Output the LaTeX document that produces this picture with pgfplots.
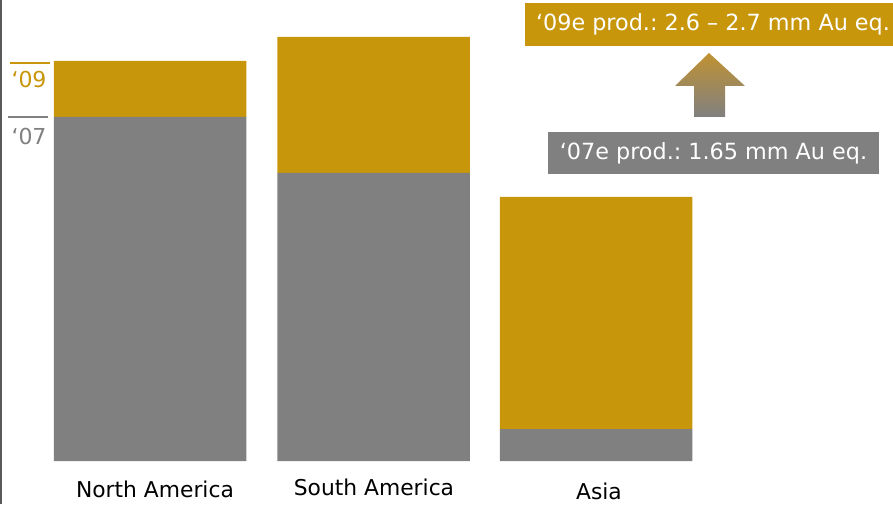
\documentclass[border=0pt]{standalone}
\usepackage{pgfplots}
\pgfplotsset{compat=1.18}
\usepackage{fontspec}
\setmainfont{DejaVu Sans}
\frenchspacing
\definecolor{gold}{RGB}{200,150,10}
\definecolor{mgray}{RGB}{128,128,128}
\definecolor{axgray}{RGB}{90,90,90}
\begin{document}
\begin{tikzpicture}
\begin{axis}[
  width=893pt, height=504pt, scale only axis,
  xmin=0, xmax=893, ymin=-43, ymax=461,
  axis line style={draw=none},
  xtick=\empty, ytick=\empty,
  ybar stacked, bar width=192.5,
  clip=false,
]
\addplot[fill=mgray, draw=none] coordinates {(150,344) (373.5,288) (596,32)};
\addplot[fill=gold, draw=none] coordinates {(150,56) (373.5,136) (596,232)};

% left axis line
\draw[axgray, line width=1.6pt] (axis cs:0.8,-43) -- (axis cs:0.8,461);
% left markers
\draw[gold, line width=2pt] (axis cs:10,398) -- (axis cs:50,398);
\node[gold, font=\fontsize{22}{22}\selectfont, anchor=center] at (axis cs:29,382) {‘09};
\draw[mgray, line width=2pt] (axis cs:8,344) -- (axis cs:48,344);
\node[mgray, font=\fontsize{22}{22}\selectfont, anchor=center] at (axis cs:29,325) {‘07};

% category labels
\node[font=\fontsize{21.8}{21.8}\selectfont] at (axis cs:155,-28) {North America};
\node[font=\fontsize{21.8}{21.8}\selectfont] at (axis cs:374,-26) {South America};
\node[font=\fontsize{21.8}{21.8}\selectfont] at (axis cs:599,-30) {Asia};

% annotation boxes
\node[fill=gold, text=white, inner sep=0pt, minimum width=368pt, minimum height=43pt, font=\fontsize{22.3}{22}\selectfont] at (axis cs:709,436.5) {\hspace*{8pt}‘09e prod.: 2.6 – 2.7 mm Au eq.};
\node[fill=mgray, text=white, inner sep=0pt, minimum width=331pt, minimum height=42pt, font=\fontsize{22.3}{22}\selectfont] at (axis cs:713.5,308) {‘07e prod.: 1.65 mm Au eq.};

% arrow
\shade[top color={rgb,255:red,192;green,146;blue,50}, bottom color={rgb,255:red,128;green,128;blue,128}]
  (axis cs:709,408) -- (axis cs:745,375) -- (axis cs:725,375) -- (axis cs:725,344)
  -- (axis cs:694,344) -- (axis cs:694,375) -- (axis cs:675,375) -- cycle;
\end{axis}
\pgfresetboundingbox
\path[use as bounding box] (current axis.south west) rectangle (current axis.north east);
\end{tikzpicture}
\end{document}
